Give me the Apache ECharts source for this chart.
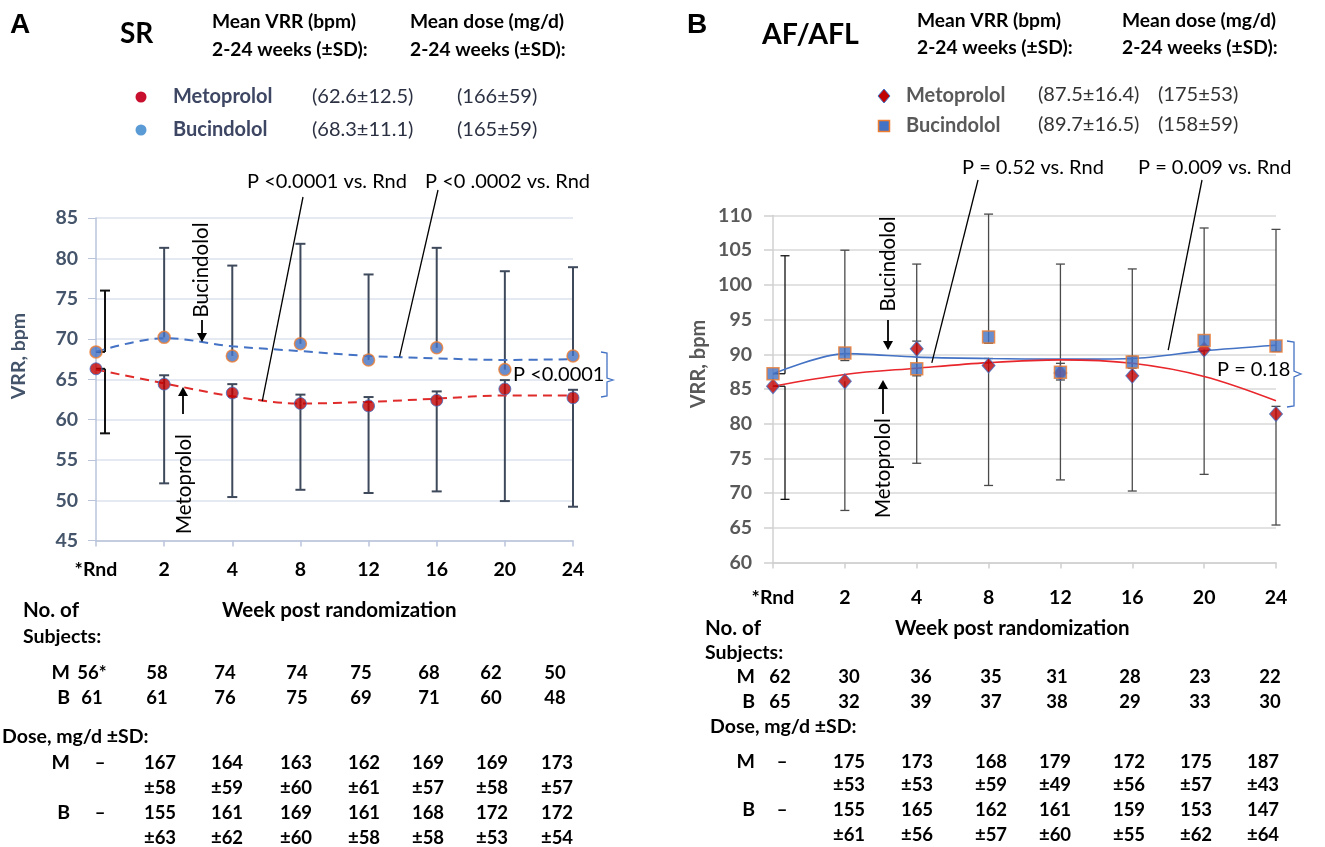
<!DOCTYPE html>
<html><head><meta charset="utf-8">
<script src="https://cdn.jsdelivr.net/npm/echarts@6/dist/echarts.min.js"></script>
<style>html,body{margin:0;padding:0;background:#fff}#c{width:1325px;height:847px}</style>
</head><body><div id="c"></div>
<script>
// ---------- DATA ----------
const categories = ['*Rnd','2','4','8','12','16','20','24'];
// Panel A (SR)
const metoA      = [66.3, 64.4, 63.3, 62.0, 61.7, 62.4, 63.8, 62.7];
const bucA       = [68.4, 70.2, 67.9, 69.4, 67.4, 68.9, 66.2, 67.9];
const metoLowA   = [58.3, 52.1, 50.4, 51.3, 50.9, 51.1, 49.9, 49.2];
const metoCapA   = [null, 65.5, 64.4, 63.1, 62.8, 63.5, 64.9, 63.7];
const bucHighA   = [76.0, 81.3, 79.1, 81.8, 78.0, 81.3, 78.4, 78.9];
const metoTrendA = [66.2, 64.5, 62.9, 62.0, 62.2, 62.6, 63.0, 63.0];
const bucTrendA  = [68.4, 70.1, 69.1, 68.5, 67.9, 67.6, 67.4, 67.5];
// Panel B (AF/AFL)
const metoB      = [85.4, 86.1, 90.8, 88.4, 87.3, 86.9, 90.7, 81.4];
const bucB       = [87.2, 90.2, 87.9, 92.5, 87.4, 88.9, 92.0, 91.2];
const metoLowB   = [69.1, 67.5, 74.3, 71.1, 71.9, 70.3, 72.7, 65.4];
const metoCapB   = [null, null, 91.9, 89.4, 88.7, 89.7, null, 82.5];
const bucHighB   = [104.2, 105.0, 103.0, 110.2, 103.0, 102.3, 108.2, 108.0];
const bucCapB    = [null, 89.1, 86.9, 91.6, 86.3, 88.0, 91.2, 90.4];
const metoTrendB = [85.4, 87.1, 88.0, 88.8, 89.2, 88.7, 86.8, 83.3];
const bucTrendB  = [87.2, 90.1, 89.6, 89.4, 89.3, 89.4, 90.5, 91.3];
// Tables
const subjA_M = ['56*','58','74','74','75','68','62','50'];
const subjA_B = ['61','61','76','75','69','71','60','48'];
const doseA_M = ['–','167','164','163','162','169','169','173'];
const sdA_M   = ['','±58','±59','±60','±61','±57','±58','±57'];
const doseA_B = ['–','155','161','169','161','168','172','172'];
const sdA_B   = ['','±63','±62','±60','±58','±58','±53','±54'];
const subjB_M = ['62','30','36','35','31','28','23','22'];
const subjB_B = ['65','32','39','37','38','29','33','30'];
const doseB_M = ['–','175','173','168','179','172','175','187'];
const sdB_M   = ['','±53','±53','±59','±49','±56','±57','±43'];
const doseB_B = ['–','155','165','162','161','159','153','147'];
const sdB_B   = ['','±61','±56','±57','±60','±55','±62','±64'];

// ---------- LAYOUT ----------
const FONT = 'Lato, "Open Sans", sans-serif';
const colsA = [92, 157, 225, 297, 361, 429, 491, 555];
const doseColsA = [100, 160, 227, 296, 364, 428, 492, 557];
const colsB = [780, 849, 921, 991, 1057, 1130, 1200, 1270];
const doseColsB = [782, 849, 917, 991, 1055, 1129, 1196, 1263];

const chart = echarts.init(document.getElementById('c'), null, {renderer:'canvas'});

function errData(from, to){
  const out=[];
  for(let i=0;i<from.length;i++){ if(to[i]!=null && from[i]!=null) out.push([i, from[i], to[i]]); }
  return out;
}
function errRender(color0, color, width, capW, offset0){
  return function(params, api){
    const i = api.value(0), from = api.value(1), to = api.value(2);
    const pf = api.coord([i, from]), pt = api.coord([i, to]);
    const off = i === 0 ? offset0 : 0;
    const c = i === 0 ? color0 : color;
    const x = pf[0] + off;
    const ch = [
      {type:'line', shape:{x1:x, y1:pf[1], x2:x, y2:pt[1]}, style:{stroke:c, lineWidth:width}},
      {type:'line', shape:{x1:x-capW/2, y1:pt[1], x2:x+capW/2, y2:pt[1]}, style:{stroke:c, lineWidth:width}}
    ];
    if(off) ch.push({type:'line', shape:{x1:pf[0], y1:pf[1], x2:x, y2:pf[1]}, style:{stroke:c, lineWidth:width}});
    return {type:'group', children:ch};
  };
}
function errSeries(g, from, to, c0, c, w, capW, off){
  return {type:'custom', xAxisIndex:g, yAxisIndex:g, z:2, silent:true,
    renderItem: errRender(c0, c, w, capW, off), encode:{x:0, y:[1,2]}, data: errData(from, to)};
}

const axA = '#b9c4da', gridA = '#dde2ec';
const axB = '#d0d0d0', gridB = '#d9d9d9';

const option = {
  animation:false,
  textStyle:{fontFamily:FONT},
  grid:[
    {left:96, top:218, width:477, height:322.6},
    {left:773, top:215.5, width:503, height:347}
  ],
  xAxis:[
    {type:'category', gridIndex:0, data:categories, boundaryGap:false,
     axisLine:{lineStyle:{color:axA, width:1.5}}, axisTick:{show:true, length:6, lineStyle:{color:axA, width:1.5}},
     axisLabel:{color:'#000', fontWeight:'bold', fontSize:19.5, margin:19, fontFamily:FONT}, splitLine:{show:false}},
    {type:'category', gridIndex:1, data:categories, boundaryGap:false,
     axisLine:{lineStyle:{color:axB, width:1.5}}, axisTick:{show:true, length:6, lineStyle:{color:axB, width:1.5}},
     axisLabel:{color:'#000', fontWeight:'bold', fontSize:19.5, margin:25, fontFamily:FONT}, splitLine:{show:false}}
  ],
  yAxis:[
    {type:'value', gridIndex:0, min:45, max:85, interval:5,
     axisLine:{show:true, lineStyle:{color:axA, width:1.5}}, axisTick:{show:true, length:8, lineStyle:{color:axA}},
     axisLabel:{color:'#44546a', fontWeight:'bold', fontSize:19.5, margin:18, fontFamily:FONT},
     splitLine:{lineStyle:{color:gridA, width:1.5}}},
    {type:'value', gridIndex:1, min:60, max:110, interval:5,
     axisLine:{show:true, lineStyle:{color:axB, width:1.5}}, axisTick:{show:true, length:9, lineStyle:{color:axB, width:1.5}},
     axisLabel:{color:'#595959', fontWeight:'bold', fontSize:19.5, margin:21, fontFamily:FONT},
     splitLine:{lineStyle:{color:gridB, width:1.5}}}
  ],
  series:[
    errSeries(0, bucA, bucHighA, '#111', '#3e4a5c', 2, 10, 9),
    errSeries(0, metoA, metoLowA, '#111', '#3e4a5c', 2, 10, 9),
    errSeries(0, metoA, metoCapA, '#111', '#3e4a5c', 2, 10, 9),
    {type:'line', xAxisIndex:0, yAxisIndex:0, data:bucTrendA, smooth:0.35, showSymbol:false, z:3, silent:true,
     lineStyle:{color:'#4472c4', width:2, type:[9,6]}},
    {type:'line', xAxisIndex:0, yAxisIndex:0, data:metoTrendA, smooth:0.35, showSymbol:false, z:3, silent:true,
     lineStyle:{color:'#e02b2b', width:2, type:[9,6]}},
    {type:'scatter', xAxisIndex:0, yAxisIndex:0, data:bucA, symbol:'circle', symbolSize:12, z:4,
     itemStyle:{color:'#4472c4', borderColor:'#ed7d31', borderWidth:1.5}},
    {type:'scatter', xAxisIndex:0, yAxisIndex:0, data:metoA, symbol:'circle', symbolSize:12, z:4,
     itemStyle:{color:'#c00000', borderColor:'#4472c4', borderWidth:1}},
    errSeries(1, bucB, bucHighB, '#111', '#4a4a4a', 1.3, 9, 12),
    errSeries(1, metoB, metoLowB, '#111', '#4a4a4a', 1.3, 9, 12),
    errSeries(1, metoB, metoCapB, '#111', '#4a4a4a', 1.3, 9, 12),
    errSeries(1, bucB, bucCapB, '#111', '#4a4a4a', 1.3, 9, 12),
    {type:'line', xAxisIndex:1, yAxisIndex:1, data:bucTrendB, smooth:0.3, showSymbol:false, z:3, silent:true,
     lineStyle:{color:'#4472c4', width:1.6}},
    {type:'line', xAxisIndex:1, yAxisIndex:1, data:metoTrendB, smooth:0.35, showSymbol:false, z:3, silent:true,
     lineStyle:{color:'#e8262b', width:1.6}},
    {type:'scatter', xAxisIndex:1, yAxisIndex:1, data:metoB, symbol:'diamond', symbolSize:[13,15], z:4,
     itemStyle:{color:'#c00000', borderColor:'#4472c4', borderWidth:1}},
    {type:'scatter', xAxisIndex:1, yAxisIndex:1, data:bucB, symbol:'rect', symbolSize:12, z:5,
     itemStyle:{color:'#4472c4', borderColor:'#ed7d31', borderWidth:1.5}}
  ]
};
chart.setOption(option);

// ---------- ANNOTATIONS / TEXT ----------
const G = [];
function txt(t, x, y, o){
  o = o || {};
  G.push({type:'text', x:x, y:y, rotation:o.rot||0, z:10, silent:true,
    style:{text:t, fill:o.color||'#000', font:(o.weight||'normal')+' '+(o.size||18)+'px '+(o.family||FONT),
      textAlign:o.align||'left', textVerticalAlign:'middle'}});
}
function line(x1,y1,x2,y2,c,w){
  G.push({type:'line', z:10, silent:true, shape:{x1,y1,x2,y2}, style:{stroke:c||'#000', lineWidth:w||1.3}});
}
function arrow(x, yTail, yTip){
  const dir = yTip > yTail ? 1 : -1;
  line(x, yTail, x, yTip - dir*7, '#000', 1.8);
  G.push({type:'polygon', z:10, silent:true, shape:{points:[[x-5, yTip-dir*9],[x+5, yTip-dir*9],[x, yTip]]}, style:{fill:'#000'}});
}
function px(g, fi, v){
  const i0 = Math.min(Math.floor(fi), 6), t = fi - i0;
  const p0 = chart.convertToPixel({gridIndex:g}, [i0, v]);
  const p1 = chart.convertToPixel({gridIndex:g}, [i0+1, v]);
  return [p0[0] + (p1[0]-p0[0])*t, p0[1]];
}
const HS = 19.2, LS = 20, PS = 20, RS = 20.5, TS = 19.5, NS = 18.5;

// Panel A header
txt('A', 10, 25, {weight:'bold', size:28, family:'"Liberation Sans", Arial, sans-serif'});
txt('SR', 120, 34, {weight:'bold', size:28});
txt('Mean VRR (bpm)', 212, 22, {weight:'bold', size:HS});
txt('2-24 weeks (±SD):', 212, 50, {weight:'bold', size:HS});
txt('Mean dose (mg/d)', 410, 22, {weight:'bold', size:HS});
txt('2-24 weeks (±SD):', 410, 50, {weight:'bold', size:HS});
G.push({type:'circle', z:10, shape:{cx:141, cy:97, r:5.5}, style:{fill:'#c8102e'}});
G.push({type:'circle', z:10, shape:{cx:141, cy:130, r:5.5}, style:{fill:'#5b9bd5'}});
txt('Metoprolol', 173, 97, {weight:'bold', color:'#3d4663', size:LS});
txt('Bucindolol', 173, 130, {weight:'bold', color:'#3d4663', size:LS});
txt('(62.6±12.5)', 312, 97, {color:'#2b3142', size:LS});
txt('(68.3±11.1)', 312, 130, {color:'#2b3142', size:LS});
txt('(166±59)', 457, 97, {color:'#2b3142', size:LS});
txt('(165±59)', 457, 130, {color:'#2b3142', size:LS});
txt('VRR, bpm', 19, 356, {weight:'bold', color:'#44546a', rot:Math.PI/2, align:'center', size:19.5});

// Panel A annotations
txt('P <0.0001 vs. Rnd', 247, 182, {size:PS});
txt('P <0 .0002 vs. Rnd', 425, 182, {size:PS});
let e = px(0, 2.44, 62.3); line(303, 197, e[0], e[1]);
e = px(0, 4.455, 67.8); line(438, 190, e[0], e[1]);
txt('Bucindolol', 201, 270, {rot:Math.PI/2, align:'center', size:RS});
arrow(202, 320, 342);
txt('Metoprolol', 184, 484, {rot:Math.PI/2, align:'center', size:RS});
arrow(183, 414, 387);
G.push({type:'polyline', z:10, silent:true, shape:{points:[[601,352],[607,353],[607,378],[613,380],[607,382],[607,396],[601,397]]}, style:{stroke:'#4472c4', lineWidth:1.3, fill:null}});
txt('P <0.0001', 513, 375, {size:PS});

// Panel A table
txt('No. of', 23, 610, {weight:'bold', size:20.5});
txt('Subjects:', 23, 637, {weight:'bold', size:TS});
txt('Week post randomization', 222, 610, {weight:'bold', size:20.5});
function rowA(label, vals, y, cols){
  if(label) txt(label, 70, y, {weight:'bold', align:'right', size:TS});
  vals.forEach((v,i)=>{ if(v) txt(v, cols[i], y, {weight:'bold', align:'center', size:NS}); });
}
rowA('M', subjA_M, 673, colsA);
rowA('B', subjA_B, 698, colsA);
txt('Dose, mg/d ±SD:', 2, 737, {weight:'bold', size:TS});
rowA('M', doseA_M, 763, doseColsA);
rowA('', sdA_M, 788, doseColsA);
rowA('B', doseA_B, 813, doseColsA);
rowA('', sdA_B, 838, doseColsA);

// Panel B header
txt('B', 687, 25, {weight:'bold', size:28, family:'"Liberation Sans", Arial, sans-serif'});
txt('AF/AFL', 762, 35, {weight:'bold', size:28.5});
txt('Mean VRR (bpm)', 917, 21, {weight:'bold', size:HS});
txt('2-24 weeks (±SD):', 917, 48, {weight:'bold', size:HS});
txt('Mean dose (mg/d)', 1122, 21, {weight:'bold', size:HS});
txt('2-24 weeks (±SD):', 1122, 48, {weight:'bold', size:HS});
G.push({type:'polygon', z:10, shape:{points:[[884,89],[890,96],[884,103],[878,96]]}, style:{fill:'#c00000', stroke:'#4472c4', lineWidth:1}});
G.push({type:'rect', z:10, shape:{x:878.5, y:120.5, width:11, height:11}, style:{fill:'#4472c4', stroke:'#ed7d31', lineWidth:1.5}});
txt('Metoprolol', 906, 96, {weight:'bold', color:'#595959', size:LS});
txt('Bucindolol', 906, 126, {weight:'bold', color:'#595959', size:LS});
txt('(87.5±16.4)', 1038, 95, {color:'#333', size:LS});
txt('(89.7±16.5)', 1038, 125, {color:'#333', size:LS});
txt('(175±53)', 1158, 95, {color:'#333', size:LS});
txt('(158±59)', 1158, 125, {color:'#333', size:LS});
txt('VRR, bpm', 699, 364, {weight:'bold', color:'#595959', rot:Math.PI/2, align:'center', size:20});

// Panel B annotations
txt('P = 0.52 vs. Rnd', 962, 168, {size:PS});
txt('P = 0.009 vs. Rnd', 1138, 168, {size:PS});
e = px(1, 2.21, 88.76); line(978, 180, e[0], e[1]);
e = px(1, 5.5, 90.6); line(1202, 180, e[0], e[1]);
txt('Bucindolol', 888, 264, {rot:Math.PI/2, align:'center', size:RS});
arrow(888, 320, 350);
txt('Metoprolol', 883, 468, {rot:Math.PI/2, align:'center', size:RS});
arrow(883, 414, 380);
G.push({type:'polyline', z:10, silent:true, shape:{points:[[1287,341],[1294,342],[1294,371],[1301,374],[1294,377],[1294,406],[1287,407]]}, style:{stroke:'#4472c4', lineWidth:1.3, fill:null}});
txt('P = 0.18', 1217, 370, {size:PS});

// Panel B table
txt('No. of', 705, 628, {weight:'bold', size:20.5});
txt('Subjects:', 705, 653, {weight:'bold', size:TS});
txt('Week post randomization', 895, 628, {weight:'bold', size:20.5});
function rowB(label, vals, y, cols){
  if(label) txt(label, 755, y, {weight:'bold', align:'right', size:TS});
  vals.forEach((v,i)=>{ if(v) txt(v, cols[i], y, {weight:'bold', align:'center', size:NS}); });
}
rowB('M', subjB_M, 677, colsB);
rowB('B', subjB_B, 702, colsB);
txt('Dose, mg/d ±SD:', 710, 727, {weight:'bold', size:TS});
rowB('M', doseB_M, 762, doseColsB);
rowB('', sdB_M, 785, doseColsB);
rowB('B', doseB_B, 810, doseColsB);
rowB('', sdB_B, 835, doseColsB);

chart.setOption({graphic:{elements:G}});
</script></body></html>
